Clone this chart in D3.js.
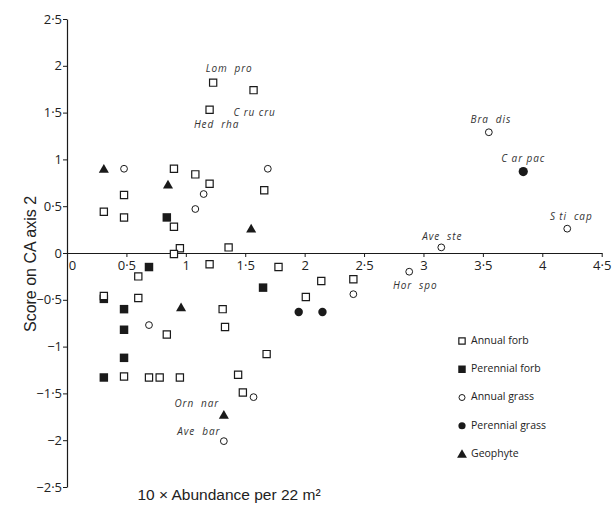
<!DOCTYPE html>
<html>
<head>
<meta charset="utf-8">
<script src="https://cdn.jsdelivr.net/npm/d3@7"></script>
<style>
  html, body { margin: 0; padding: 0; background: #fff; }
  svg { display: block; }
  text { white-space: pre; }
</style>
</head>
<body>
<svg id="chart" width="614" height="505"></svg>
<script>
// ---- data ----
const xTicks = [0, 0.5, 1, 1.5, 2, 2.5, 3, 3.5, 4, 4.5];
const xTickLabels = ["0", "0·5", "1", "1·5", "2", "2·5", "3", "3·5", "4", "4·5"];
const yTicks = [2.5, 2, 1.5, 1, 0.5, 0, -0.5, -1, -1.5, -2, -2.5];
const yTickLabels = ["2·5", "2", "1·5", "1", "0·5", "0", "−0·5", "−1", "−1·5", "−2", "−2·5"];

const annualForb = [
  [1.23, 1.82, "Lom  pro"], [1.57, 1.74, "C ru cru"], [1.20, 1.53, "Hed  rha"],
  [0.31, 0.44], [0.48, 0.62], [0.48, 0.38], [0.90, 0.90], [1.08, 0.84], [1.20, 0.74],
  [0.90, 0.28], [0.95, 0.05], [0.90, -0.01], [1.20, -0.12], [1.66, 0.67], [1.36, 0.06],
  [1.78, -0.15], [0.60, -0.25], [0.60, -0.48], [0.84, -0.87], [0.48, -1.32], [0.69, -1.33],
  [0.78, -1.33], [0.95, -1.33], [0.31, -0.46], [2.14, -0.30], [2.41, -0.28], [2.01, -0.47],
  [1.31, -0.60], [1.33, -0.79], [1.68, -1.08], [1.44, -1.30], [1.48, -1.49]
];
const perennialForb = [
  [0.84, 0.38], [0.69, -0.15], [0.31, -0.49], [0.48, -0.60], [0.48, -0.82],
  [0.48, -1.12], [0.31, -1.33], [1.65, -0.37]
];
const annualGrass = [
  [0.48, 0.90], [1.15, 0.63], [1.08, 0.47], [1.69, 0.90], [0.69, -0.77], [2.41, -0.44],
  [1.57, -1.54], [1.32, -2.01, "Ave  bar"], [3.55, 1.29, "Bra  dis"], [4.21, 0.26, "S ti  cap"],
  [3.15, 0.06, "Ave  ste"], [2.88, -0.20, "Hor  spo"]
];
const perennialGrass = [
  [1.95, -0.63], [2.15, -0.63], [3.84, 0.87, "C ar pac"]
];
const geophyte = [
  [0.31, 0.90], [0.85, 0.73], [1.55, 0.26], [0.96, -0.58], [1.32, -1.73, "Orn  nar"]
];
const groupNames = ["Annual forb", "Perennial forb", "Annual grass", "Perennial grass", "Geophyte"];

// ---- layout ----
const svg = d3.select("#chart");
const x = d3.scaleLinear().domain([0, 4.5]).range([67, 601.7]);
const y = d3.scaleLinear().domain([-2.5, 2.5]).range([487, 19]);
const ink = "#1a1a1a";
const tickFont = "'Open Sans', sans-serif";

// y axis
const yAxis = svg.append("g").attr("transform", `translate(${x(0)},0)`)
  .call(d3.axisLeft(y).tickValues(yTicks).tickSize(4).tickSizeOuter(0)
    .tickFormat((d, i) => yTickLabels[i]));
yAxis.select(".domain").attr("stroke", ink).attr("stroke-width", 1.2);
yAxis.selectAll(".tick line").attr("stroke", ink).attr("stroke-width", 1);
yAxis.selectAll(".tick text").attr("font-family", tickFont).attr("font-size", 13)
  .attr("fill", "#222").attr("x", -5);

// x axis at y = 0
const xAxis = svg.append("g").attr("transform", `translate(0,${y(0)})`)
  .call(d3.axisBottom(x).tickValues(xTicks).tickSize(4).tickSizeOuter(0)
    .tickFormat((d, i) => xTickLabels[i]));
xAxis.select(".domain").attr("stroke", ink).attr("stroke-width", 1.2);
xAxis.selectAll(".tick line").attr("stroke", ink).attr("stroke-width", 1);
xAxis.selectAll(".tick text").attr("font-family", tickFont).attr("font-size", 13)
  .attr("fill", "#222").attr("y", 8)
  .attr("dx", d => d === 0 ? 5 : 0);

// axis titles
svg.append("text")
  .attr("transform", `translate(36,${264}) rotate(-90)`)
  .attr("text-anchor", "middle")
  .attr("font-family", "'Liberation Sans', Arial, sans-serif")
  .attr("font-size", 16).attr("fill", "#222")
  .text("Score on CA axis 2");
svg.append("text")
  .attr("x", 229).attr("y", 500)
  .attr("text-anchor", "middle")
  .attr("font-family", "'Liberation Sans', Arial, sans-serif")
  .attr("font-size", 15.5).attr("fill", "#222")
  .text("10 × Abundance per 22 m²");

// marker drawing
const sqSym = d3.symbol().type(d3.symbolSquare);
const triSym = d3.symbol().type(d3.symbolTriangle);
const styles = [
  { data: annualForb, path: sqSym.size(52)(), fill: "#fff", stroke: ink, sw: 1.2 },
  { data: perennialForb, path: d3.symbol().type(d3.symbolSquare).size(72)(), fill: ink, stroke: "none", sw: 0 },
  { data: annualGrass, circle: 3.4, fill: "#fff", stroke: ink, sw: 1 },
  { data: perennialGrass, circle: 4.2, fill: ink, stroke: "none", sw: 0 },
  { data: geophyte, path: triSym.size(44)(), fill: ink, stroke: "none", sw: 0 }
];
// draw filled first, then open ones on top
const order = [1, 3, 4, 0, 2];
order.forEach(gi => {
  const s = styles[gi];
  const g = svg.append("g");
  s.data.forEach(d => {
    if (s.circle) {
      g.append("circle").attr("cx", x(d[0])).attr("cy", y(d[1]))
        .attr("r", (gi === 3 && d[2]) ? 4.6 : s.circle)
        .attr("fill", s.fill).attr("stroke", s.stroke).attr("stroke-width", s.sw);
    } else {
      g.append("path").attr("d", s.path)
        .attr("transform", `translate(${x(d[0])},${y(d[1]) + (gi === 4 ? 1 : 0)})`)
        .attr("fill", s.fill).attr("stroke", s.stroke).attr("stroke-width", s.sw);
    }
  });
});

// species labels
const labelOffset = {
  "Lom  pro": [16, -13], "C ru cru": [1, 23], "Hed  rha": [7, 16],
  "Bra  dis": [2, -12], "C ar pac": [0, -12], "S ti  cap": [4, -11],
  "Ave  ste": [1, -10], "Hor  spo": [6, 15], "Orn  nar": [-27, -11], "Ave  bar": [-25, -9]
};
[annualForb, perennialForb, annualGrass, perennialGrass, geophyte].forEach(arr => {
  arr.filter(d => d[2]).forEach(d => {
    const off = labelOffset[d[2]];
    svg.append("text")
      .attr("x", x(d[0]) + off[0]).attr("y", y(d[1]) + off[1])
      .attr("text-anchor", "middle").attr("dominant-baseline", "middle")
      .attr("font-family", tickFont).attr("font-style", "italic")
      .attr("font-size", 10).attr("letter-spacing", 0.9).attr("fill", "#333")
      .text(d[2]);
  });
});

// legend
const legendY = d3.scalePoint().domain(groupNames).range([341, 454]);
const lg = svg.append("g");
groupNames.forEach((name, i) => {
  const s = styles[i];
  const cy = legendY(name);
  if (s.circle) {
    lg.append("circle").attr("cx", 462).attr("cy", cy).attr("r", i === 3 ? 3.6 : 3)
      .attr("fill", s.fill).attr("stroke", s.stroke).attr("stroke-width", s.sw);
  } else {
    const p = i === 0 ? d3.symbol().type(d3.symbolSquare).size(40)()
      : i === 1 ? d3.symbol().type(d3.symbolSquare).size(56)()
      : d3.symbol().type(d3.symbolTriangle).size(42)();
    lg.append("path").attr("d", p).attr("transform", `translate(462,${cy + (i === 4 ? 1 : 0)})`)
      .attr("fill", s.fill).attr("stroke", s.stroke).attr("stroke-width", s.sw);
  }
  lg.append("text").attr("x", 471).attr("y", cy).attr("dominant-baseline", "middle")
    .attr("font-family", tickFont).attr("font-size", 10.5).attr("fill", "#222")
    .text(name);
});
</script>
</body>
</html>
